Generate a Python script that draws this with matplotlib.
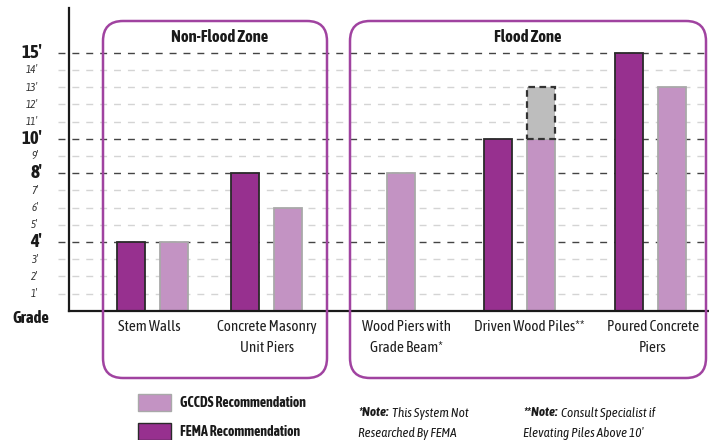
import numpy as np
import matplotlib
matplotlib.use("Agg")
import matplotlib.pyplot as plt
from matplotlib.patches import FancyBboxPatch, Rectangle

plt.rcParams['font.family'] = ['Asap Condensed', 'Liberation Sans Narrow', 'DejaVu Sans']

# data
systems = ["Stem Walls", "Concrete Masonry\nUnit Piers", "Wood Piers with\nGrade Beam*",
           "Driven Wood Piles**", "Poured Concrete\nPiers"]
fema = [4, 8, np.nan, 10, 15]
gccds = [4, 6, 8, 10, 13]
pile_extension = [0, 0, 0, 3, 0]   # dashed "consult specialist" part on top of gccds
major_ticks = [4, 8, 10, 15]
minor_ticks = [1, 2, 3, 5, 6, 7, 9, 11, 12, 13, 14]

# layout (pixel units, x axis runs 69..709)
group_x = np.array([152, 266, 401, 519.5, 650.5])
label_x = [149, 267, 406, 529, 653]
offset = 21.5
bar_w = 28

FEMA_C = "#97308f"
GCCDS_C = "#c393c3"
BOX_C = "#a043a0"

W, H = 709, 440
fig = plt.figure(figsize=(W / 100, H / 100), dpi=100)
top_px, base_px = 8, 310.7
ax = fig.add_axes([69 / W, (H - base_px) / H, (W - 69) / W, (base_px - top_px) / H])
ax.set_xlim(69, W)
ax.set_ylim(0, (base_px - top_px) / 17.2)

# gridlines
for y in minor_ticks:
    ax.hlines(y, 58, W, colors="#d4d4d4", lw=1, linestyles=(0, (5, 5)), clip_on=False, zorder=1)
    ax.text(38, y, f"{y}\u2032", ha="right", va="center", fontsize=8, style="italic", color="#333333")
for y in major_ticks:
    ax.hlines(y, 58, W, colors="#444444", lw=1, linestyles=(0, (5, 5)), clip_on=False, zorder=1)
    ax.text(42, y, f"{y}\u2032", ha="right", va="center", fontsize=13.5, fontweight="bold", color="#1a1a1a")
ax.text(12, 0.05, "Grade", ha="left", va="top", fontsize=12, fontweight="bold", color="#1a1a1a")

# bars
has_fema = ~np.isnan(np.array(fema, dtype=float))
gx = np.where(has_fema, group_x + offset, group_x)
ax.bar(group_x[has_fema] - offset, np.array(fema)[has_fema], width=bar_w, color=FEMA_C,
       edgecolor="#2a2a2a", lw=1.3, zorder=3)
ax.bar(gx, gccds, width=bar_w, color=GCCDS_C, edgecolor="#a9a9a9", lw=1.3, zorder=3)
ext = np.array(pile_extension)
ax.bar(gx[ext > 0], ext[ext > 0], bottom=np.array(gccds)[ext > 0], width=bar_w, color="#bdbdbd",
       edgecolor="#333333", lw=1.6, linestyle=(0, (3, 2)), zorder=3)

for x, lab in zip(label_x, systems):
    ax.text(x, -0.55, lab, ha="center", va="top", fontsize=11, color="#1f1f1f", linespacing=1.6)

for s in ["top", "right"]:
    ax.spines[s].set_visible(False)
for s in ["left", "bottom"]:
    ax.spines[s].set_linewidth(1.6)
    ax.spines[s].set_color("#1a1a1a")
    ax.spines[s].set_zorder(4)
ax.set_xticks([])
ax.set_yticks([])
ax.patch.set_alpha(0)

# overlay in pixel coordinates
ov = fig.add_axes([0, 0, 1, 1], zorder=5)
ov.set_xlim(0, W)
ov.set_ylim(H, 0)
ov.axis("off")
ov.patch.set_alpha(0)

for x0, x1, title, tx in [(103, 327, "Non-Flood Zone", 220), (350, 706, "Flood Zone", 528)]:
    ov.add_patch(FancyBboxPatch((x0, 21), x1 - x0, 378 - 21,
                                boxstyle="round,pad=0,rounding_size=20",
                                fc="none", ec=BOX_C, lw=1.8))
    ov.text(tx, 37, title, ha="center", va="center", fontsize=12, fontweight="bold", color="#1a1a1a")

# legend
ov.add_patch(Rectangle((138, 394), 33, 17, fc=GCCDS_C, ec="#a9a9a9", lw=1))
ov.add_patch(Rectangle((138, 423), 33, 17, fc=FEMA_C, ec="#2a2a2a", lw=1))
ov.text(180, 403, "GCCDS Recommendation", ha="left", va="center", fontsize=10, fontweight="bold", color="#1a1a1a")
ov.text(180, 432, "FEMA Recommendation", ha="left", va="center", fontsize=10, fontweight="bold", color="#1a1a1a")

# notes
for x, head, l1, l2 in [(358, "*Note:", "This System Not", "Researched By FEMA"),
                        (523, "**Note:", "Consult Specialist if", "Elevating Piles Above 10\u2032")]:
    t = ov.text(x, 413, head, ha="left", va="center", fontsize=9.5, fontweight="bold",
                style="italic", color="#1a1a1a")
    fig.canvas.draw()
    bb = t.get_window_extent()
    x_end = ov.transData.inverted().transform((bb.x1, bb.y0))[0]
    ov.text(x_end + 4, 413, l1, ha="left", va="center", fontsize=9.5, style="italic", color="#1a1a1a")
    ov.text(x, 433, l2, ha="left", va="center", fontsize=9.5, style="italic", color="#1a1a1a")

fig.savefig("out.png", dpi=100)
